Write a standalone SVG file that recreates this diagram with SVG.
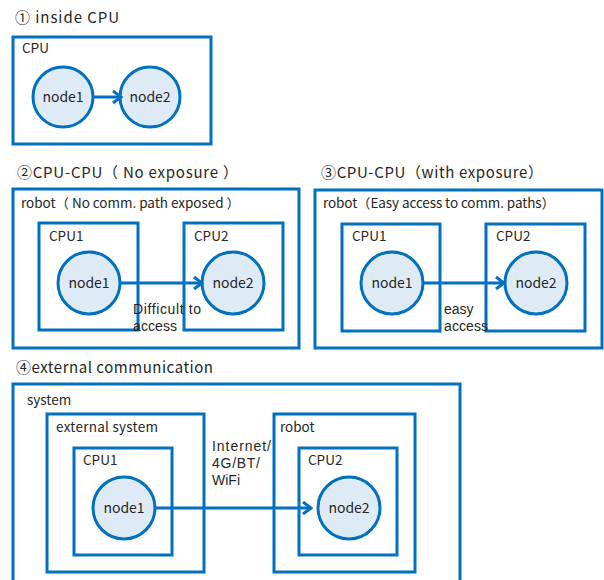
<svg xmlns="http://www.w3.org/2000/svg" width="604" height="580" viewBox="0 0 604 580">
  <style>
    text { font-family: "Noto Sans CJK JP", "Noto Sans", sans-serif; fill: #262626; }
    .title { font-size: 15px; }
    .lbl { font-size: 13.5px; }
    .sm { font-family: "Liberation Sans", Arial, sans-serif; font-size: 14px; }
    .nd { font-size: 14px; text-anchor: middle; }
    .box { fill: none; stroke: #0070C0; stroke-width: 3; }
    .node circle { fill: #DEEBF7; stroke: #0070C0; stroke-width: 3; }
    .conn { fill: none; stroke: #0070C0; stroke-width: 3; }
  </style>
  <defs>
    <marker id="chev" viewBox="0 0 12 14" refX="10" refY="7" markerWidth="12" markerHeight="14" markerUnits="userSpaceOnUse" orient="auto">
      <path d="M2,1 L10,7 L2,13" fill="none" stroke="#0070C0" stroke-width="3"/>
    </marker>
  </defs>
  <rect width="604" height="580" fill="#fff"/>

  <!-- Section 1: inside CPU -->
  <text class="title" x="15" y="23" textLength="104" lengthAdjust="spacing">① inside CPU</text>
  <g id="cpu">
    <rect class="box" x="13" y="37" width="198" height="107"/>
    <text class="lbl" x="22" y="53">CPU</text>
  </g>
  <g id="s1-node1" class="node">
    <circle cx="63" cy="97" r="30"/>
    <text class="nd" x="63" y="102">node1</text>
  </g>
  <g id="s1-node2" class="node">
    <circle cx="150" cy="97" r="30"/>
    <text class="nd" x="150" y="102">node2</text>
  </g>

  <!-- Section 2: CPU-CPU, no exposure -->
  <text class="title" x="17" y="178" textLength="221" lengthAdjust="spacing">②CPU-CPU（ No exposure ）</text>
  <g id="s2-robot">
    <rect class="box" x="13" y="189" width="286" height="159"/>
    <text class="lbl" x="21" y="208" textLength="219" lengthAdjust="spacing">robot（ No comm. path exposed ）</text>
  </g>
  <g id="s2-cpu1">
    <rect class="box" x="39" y="223" width="99" height="107"/>
    <text class="lbl" x="49" y="241">CPU1</text>
  </g>
  <g id="s2-cpu2">
    <rect class="box" x="184" y="223" width="99" height="107"/>
    <text class="lbl" x="194" y="241">CPU2</text>
  </g>
  <g id="s2-node1" class="node">
    <circle cx="89" cy="283" r="31"/>
    <text class="nd" x="89" y="288">node1</text>
  </g>
  <g id="s2-node2" class="node">
    <circle cx="233" cy="283" r="31"/>
    <text class="nd" x="233" y="288">node2</text>
  </g>

  <!-- Section 3: CPU-CPU, with exposure -->
  <text class="title" x="321" y="178" textLength="222" lengthAdjust="spacing">③CPU-CPU（with exposure）</text>
  <g id="s3-robot">
    <rect class="box" x="315" y="190" width="287" height="158"/>
    <text class="lbl" x="323" y="208" textLength="232" lengthAdjust="spacing">robot（Easy access to comm. paths）</text>
  </g>
  <g id="s3-cpu1">
    <rect class="box" x="342" y="224" width="98" height="107"/>
    <text class="lbl" x="352" y="241">CPU1</text>
  </g>
  <g id="s3-cpu2">
    <rect class="box" x="486" y="224" width="99" height="107"/>
    <text class="lbl" x="496" y="241">CPU2</text>
  </g>
  <g id="s3-node1" class="node">
    <circle cx="392" cy="283" r="31"/>
    <text class="nd" x="392" y="288">node1</text>
  </g>
  <g id="s3-node2" class="node">
    <circle cx="536" cy="283" r="31"/>
    <text class="nd" x="536" y="288">node2</text>
  </g>

  <!-- Section 4: external communication -->
  <text class="title" x="16" y="373" textLength="197" lengthAdjust="spacing">④external communication</text>
  <g id="s4-system">
    <rect class="box" x="13" y="384" width="447" height="210"/>
    <text class="lbl" x="27" y="405">system</text>
  </g>
  <g id="s4-external">
    <rect class="box" x="47" y="414" width="157" height="158"/>
    <text class="lbl" x="56" y="432" textLength="102" lengthAdjust="spacing">external system</text>
  </g>
  <g id="s4-cpu1">
    <rect class="box" x="74" y="448" width="98" height="107"/>
    <text class="lbl" x="83" y="465">CPU1</text>
  </g>
  <g id="s4-robot">
    <rect class="box" x="274" y="414" width="141" height="158"/>
    <text class="lbl" x="280" y="432">robot</text>
  </g>
  <g id="s4-cpu2">
    <rect class="box" x="299" y="448" width="98" height="107"/>
    <text class="lbl" x="308" y="465">CPU2</text>
  </g>
  <g id="s4-node1" class="node">
    <circle cx="124" cy="508" r="31"/>
    <text class="nd" x="124" y="513">node1</text>
  </g>
  <g id="s4-node2" class="node">
    <circle cx="349" cy="508" r="31"/>
    <text class="nd" x="349" y="513">node2</text>
  </g>

  <!-- Connectors -->
  <g id="connectors">
    <line class="conn" x1="93" y1="97" x2="121" y2="97" marker-end="url(#chev)"/>
    <line class="conn" x1="120" y1="283" x2="202" y2="283" marker-end="url(#chev)"/>
    <text class="sm" x="133" y="314" textLength="68" lengthAdjust="spacing">Difficult to</text>
    <text class="sm" x="133" y="331" textLength="44" lengthAdjust="spacing">access</text>
    <line class="conn" x1="423" y1="283" x2="504" y2="283" marker-end="url(#chev)"/>
    <text class="sm" x="444" y="314">easy</text>
    <text class="sm" x="444" y="331" textLength="44" lengthAdjust="spacing">access</text>
    <line class="conn" x1="155" y1="508" x2="311" y2="508" marker-end="url(#chev)"/>
    <text class="sm" x="212" y="451" textLength="59" lengthAdjust="spacing">Internet/</text>
    <text class="sm" x="212" y="468" textLength="48" lengthAdjust="spacing">4G/BT/</text>
    <text class="sm" x="212" y="485">WiFi</text>
  </g>
</svg>
